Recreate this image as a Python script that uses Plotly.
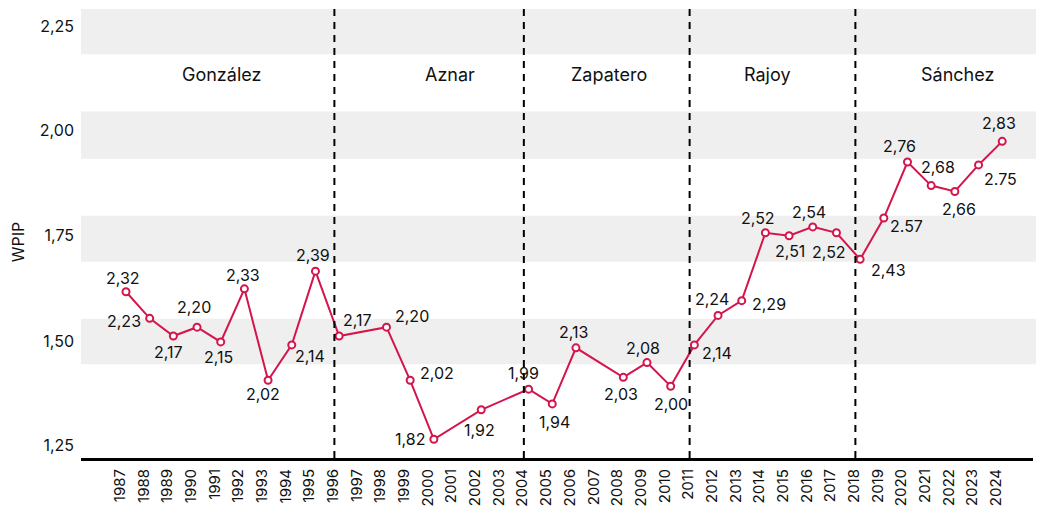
import plotly.graph_objects as go

# ---- data ----
years = [1987, 1988, 1989, 1990, 1991, 1992, 1993, 1994, 1995, 1996,
         1998, 1999, 2000, 2002, 2004, 2005, 2006, 2008, 2009, 2010,
         2011, 2012, 2013, 2014, 2015, 2016, 2017, 2018, 2019, 2020,
         2021, 2022, 2023, 2024]
wpip = [2.32, 2.23, 2.17, 2.20, 2.15, 2.33, 2.02, 2.14, 2.39, 2.17,
        2.20, 2.02, 1.82, 1.92, 1.99, 1.94, 2.13, 2.03, 2.08, 2.00,
        2.14, 2.24, 2.29, 2.52, 2.51, 2.54, 2.52, 2.43, 2.57, 2.76,
        2.68, 2.66, 2.75, 2.83]
point_labels = ["2,32", "2,23", "2,17", "2,20", "2,15", "2,33", "2,02", "2,14", "2,39", "2,17",
                "2,20", "2,02", "1,82", "1,92", "1,99", "1,94", "2,13", "2,03", "2,08", "2,00",
                "2,14", "2,24", "2,29", "2,52", "2,51", "2,54", "2,52", "2,43", "2.57", "2,76",
                "2,68", "2,66", "2.75", "2,83"]
tick_years = list(range(1987, 2025))
y_tick_text = ["1,25", "1,50", "1,75", "2,00", "2,25"]
y_tick_vals = [1.8007, 2.1508, 2.5125, 2.8661, 3.2186]
change_years = [1996, 2004, 2011, 2018]
governments = ["González", "Aznar", "Zapatero", "Rajoy", "Sánchez"]

# ---- styling / placement ----
RED = "#d4154c"
FONT = "Inter"
label_offsets = [(-3, -14), (-26, 3), (-5, 16), (-3, -20), (-2, 15), (-1, -14), (-5, 14), (18, 11),
                 (-2, -16), (18, -16), (26, -11), (27, -7), (-24, 0), (-2, 20), (-5, -16), (2, 18),
                 (-2, -16), (-2, 17), (-4, -15), (0, 18), (23, 8), (-6, -16), (27, 3), (-7, -15),
                 (1, 15), (-4, -15), (-7, 19), (28, 11), (23, 8), (-8, -16), (7, -19), (4, 18),
                 (22, 14), (-3, -18)]
gov_label_x = [1991.04, 2000.68, 2007.40, 2014.07, 2022.11]
gov_label_y = 3.055
bands = [(3.1251, 3.2786), (2.7712, 2.9313), (2.422, 2.578), (2.0742, 2.2288)]

fig = go.Figure()
fig.add_trace(go.Scatter(
    x=years, y=wpip, mode="lines+markers",
    line=dict(color=RED, width=2),
    marker=dict(symbol="circle", size=7, color="white", line=dict(color=RED, width=2)),
    hoverinfo="x+y", showlegend=False,
))

shapes = []
for y0, y1 in bands:
    shapes.append(dict(type="rect", xref="paper", yref="y", x0=0, x1=1.02, y0=y0, y1=y1,
                       fillcolor="#efefef", line=dict(width=0), layer="below"))
for cy in change_years:
    shapes.append(dict(type="line", xref="x", yref="paper", x0=cy - 0.2, x1=cy - 0.2, y0=0, y1=1,
                       line=dict(color="black", width=2, dash="7px,6px"), layer="above"))

annotations = []
for x, y, t, (dx, dy) in zip(years, wpip, point_labels, label_offsets):
    annotations.append(dict(x=x, y=y, text=t, showarrow=False, xshift=dx, yshift=-dy,
                            xanchor="center", yanchor="middle",
                            font=dict(family=FONT, size=16, color="#111")))
for gx, g in zip(gov_label_x, governments):
    annotations.append(dict(x=gx, y=gov_label_y, text=g, showarrow=False,
                            xanchor="center", yanchor="middle",
                            font=dict(family=FONT, size=18, color="#111")))
annotations.append(dict(xref="paper", yref="paper", x=-0.0667, y=0.4817, text="WPIP",
                        textangle=-90, showarrow=False, xanchor="center", yanchor="middle",
                        font=dict(family=FONT, size=16, color="#111")))

fig.update_layout(
    width=1044, height=506,
    margin=dict(l=73, r=19, t=1, b=56, autoexpand=False),
    paper_bgcolor="white", plot_bgcolor="white",
    font=dict(family=FONT, size=16, color="#111"),
    shapes=shapes, annotations=annotations,
    xaxis=dict(range=[1985.10, 2025.30], tickmode="array", tickvals=tick_years,
               ticktext=[str(y) for y in tick_years], tickangle=-90, ticks="",
               showgrid=False, zeroline=False, showline=True, linecolor="black", linewidth=3,
               ticklabelshift=-6, ticklabelstandoff=2, automargin=False,
               tickfont=dict(family=FONT, size=15, color="#111")),
    yaxis=dict(range=[1.7566, 3.2786], tickmode="array", tickvals=y_tick_vals,
               ticktext=y_tick_text, ticks="", showgrid=False, zeroline=False, showline=False,
               ticklabelstandoff=6, automargin=False,
               tickfont=dict(family=FONT, size=16, color="#111")),
)

fig.write_html("out.html")
